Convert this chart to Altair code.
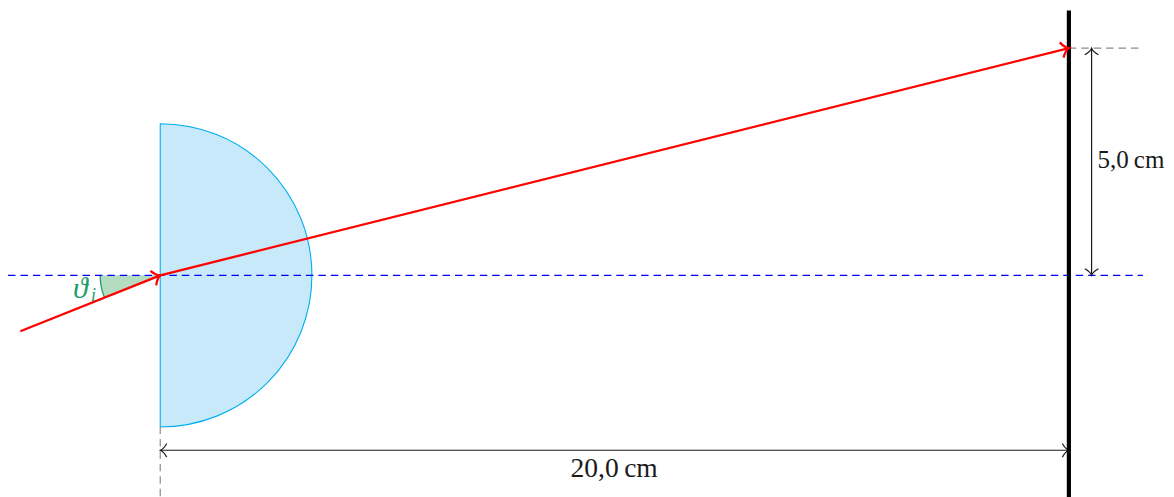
import altair as alt
import pandas as pd

# The canvas is slightly larger than the window so nothing is cut off; the photo
# comes back shrunk by this factor, and the scales allow for it.
SHOT_SCALE = 0.992
SHOT_DX = 0.3
SHOT_DY = 1.7

# Geometry in centimetres, origin at the point where the ray enters the lens
PX_PER_CM = 45.38 / SHOT_SCALE
ORIGIN_X = (160.3 - SHOT_DX) / SHOT_SCALE
ORIGIN_Y = (275.0 - SHOT_DY) / SHOT_SCALE
PAGE_W, PAGE_H = 1174, 497

ray_in_x = [-3.08, 0.0]
ray_in_y = [-1.23, 0.0]
ray_out_x = [0.0, 20.0]
ray_out_y = [0.0, 5.0]
axis_x = [-3.35, 21.63]
axis_y = [0.0, 0.0]
guide_top_x = [20.0, 21.6]
guide_top_y = [5.0, 5.0]
guide_left_x = [0.0, 0.0]
guide_left_y = [-3.33, -4.9]
screen_x = [20.0, 20.0]
screen_y = [5.83, -4.9]
dim_h_x = [0.0, 20.0]
dim_h_y = [-3.85, -3.85]
dim_v_x = [20.5, 20.5]
dim_v_y = [0.0, 5.0]

LENS_RADIUS_PX = 151.5 / SHOT_SCALE
ANGLE_RADIUS_PX = 60 / SHOT_SCALE
ANGLE_START = 4.33
ANGLE_END = 4.712

RED = "#ff0000"
CYAN = "#00aeef"
LENS_FILL = "#c7e9fa"
GREEN = "#1a9e6a"
WEDGE = "#b3dcc0"
DASH = "#0000ff"
GUIDE = "#8c8c8c"
INK = "#1a1a1a"

FONT = "Liberation Serif"
ARROW = "M-0.95,-1 C-0.65,-0.45 -0.3,-0.12 0,0 C-0.3,0.12 -0.65,0.45 -0.95,1"

x_scale = alt.Scale(domain=[(8 - ORIGIN_X) / PX_PER_CM, (PAGE_W - ORIGIN_X) / PX_PER_CM], nice=False, zero=False)
y_scale = alt.Scale(domain=[(ORIGIN_Y - PAGE_H) / PX_PER_CM, (ORIGIN_Y - 8) / PX_PER_CM], nice=False, zero=False)
X = alt.X("x:Q", scale=x_scale, axis=None)
Y = alt.Y("y:Q", scale=y_scale, axis=None)


def table(xs, ys):
    return pd.DataFrame({"x": xs, "y": ys})


def line(xs, ys, color, width, dash=None):
    kw = {"color": color, "strokeWidth": width, "clip": False}
    if dash:
        kw["strokeDash"] = dash
    return alt.Chart(table(xs, ys)).mark_line(**kw).encode(x=X, y=Y)


def head(x, y, angle, color, width, size=190):
    return alt.Chart(table([x], [y])).mark_point(
        shape=ARROW, size=size, filled=False, stroke=color, strokeWidth=width,
        angle=angle, opacity=1
    ).encode(x=X, y=Y)


def label(x, y, text, size, color, style="normal", align="left"):
    return alt.Chart(pd.DataFrame({"x": [x], "y": [y], "t": [text]})).mark_text(
        font=FONT, fontSize=size / SHOT_SCALE, color=color, fontStyle=style, align=align, baseline="alphabetic"
    ).encode(x=X, y=Y, text="t:N")


lens = alt.Chart(table([0.0], [0.0])).mark_arc(
    theta=0, theta2=3.14159265, outerRadius=LENS_RADIUS_PX, innerRadius=0,
    fill=LENS_FILL, stroke=CYAN, strokeWidth=1.1
).encode(x=X, y=Y)

wedge = alt.Chart(table([0.0], [0.0])).mark_arc(
    theta=ANGLE_START, theta2=ANGLE_END, outerRadius=ANGLE_RADIUS_PX, innerRadius=0,
    fill=WEDGE, strokeWidth=0
).encode(x=X, y=Y)

wedge_edge = alt.Chart(table([0.0], [0.0])).mark_arc(
    theta=ANGLE_START, theta2=ANGLE_END, outerRadius=ANGLE_RADIUS_PX, innerRadius=ANGLE_RADIUS_PX,
    fillOpacity=0, stroke=GREEN, strokeWidth=1.3
).encode(x=X, y=Y)

chart = alt.layer(
    lens,
    wedge,
    wedge_edge,
    line(axis_x, axis_y, DASH, 1.2, [7.5, 5]),
    line(guide_top_x, guide_top_y, GUIDE, 1.2, [7.5, 5]),
    line(guide_left_x, guide_left_y, GUIDE, 1.2, [7.5, 5]),
    line(dim_h_x, dim_h_y, INK, 1.2),
    line(dim_v_x, dim_v_y, INK, 1.2),
    head(0.0, -3.85, 180, INK, 1.2),
    head(20.0, -3.85, 0, INK, 1.2),
    head(20.5, 0.0, 90, INK, 1.2),
    head(20.5, 5.0, 270, INK, 1.2),
    line(screen_x, screen_y, "#000000", 4.2),
    line(ray_in_x, ray_in_y, RED, 2.3),
    line(ray_out_x, ray_out_y, RED, 2.3),
    head(0.0, 0.0, 338.2, RED, 2.3, 250),
    head(20.0, 5.0, 346, RED, 2.3, 250),
    label(9.03, -4.44, "20,0\u2009cm", 27.5, INK),
    label(20.63, 2.37, "5,0\u2009cm", 25, INK),
    label(-1.92, -0.506, "\u03d1", 30, GREEN, style="italic"),
    label(-1.525, -0.57, "i", 18, GREEN, style="italic"),
).properties(
    width=PAGE_W - 8,
    height=PAGE_H - 8,
    padding=0,
    autosize=alt.AutoSizeParams(type="none"),
    background="white",
).configure_view(stroke=None)

chart.save("out.html", embed_options={"renderer": "svg", "actions": False})
